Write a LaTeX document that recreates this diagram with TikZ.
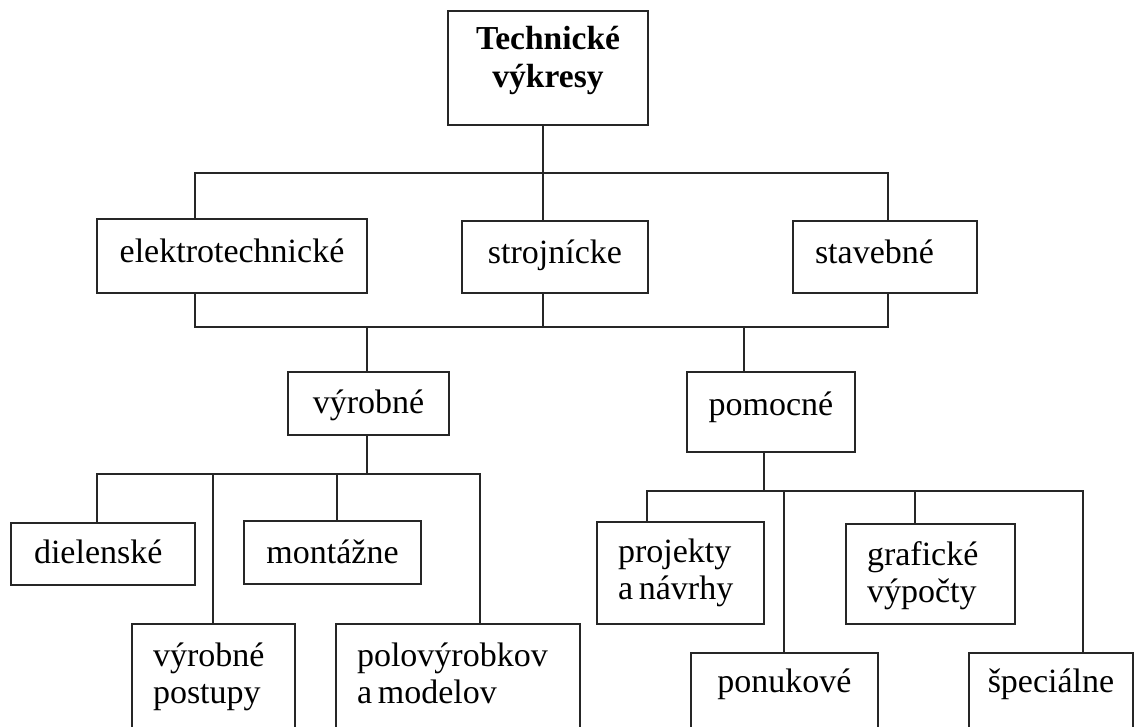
\documentclass[tikz,border=0pt]{standalone}
\usepackage{fontspec}
\setmainfont{Liberation Serif}
\begin{document}
\begin{tikzpicture}[x=1pt,y=-1pt,
  conn/.style={line width=1.8pt,draw=black!85},
  box/.style={draw=black!85,line width=1.8pt,rectangle,inner sep=0pt,
    font=\fontsize{34}{37}\selectfont},
  lbox/.style={box,align=left,execute at begin node={\spaceskip=0.17em\relax}},
  cbox/.style={box,align=center}]
\useasboundingbox (0,0) rectangle (1137,727);
\clip (0,0) rectangle (1137,727);
% boxes
\node[cbox,minimum width=200pt,minimum height=114pt,text width=200pt,text height=30pt,text depth=66pt,font=\fontsize{33.5}{38}\selectfont\bfseries] (top) at (548,68) {Technické\\výkresy};
\node[box,minimum width=270pt,minimum height=74pt,text height=30pt,text depth=18pt] (elektro) at (232,256) {elektrotechnické};
\node[box,minimum width=186pt,minimum height=72pt,text height=30pt,text depth=16pt] (stroj) at (555,257) {strojnícke};
\node[lbox,minimum width=184pt,minimum height=72pt,text width=140pt,text height=30pt,text depth=16pt] (stav) at (885,257) {stavebné};
\node[box,minimum width=161pt,minimum height=63pt,text height=33pt,text depth=13pt] (vyr) at (368.5,403.5) {výrobné};
\node[box,minimum width=168pt,minimum height=80pt,text height=27pt,text depth=21pt] (pom) at (771,412) {pomocné};
\node[lbox,minimum width=184pt,minimum height=62pt,text width=138pt,text height=33pt,text depth=14pt] (diel) at (103,554) {dielenské};
\node[box,minimum width=177pt,minimum height=63pt,text height=34pt,text depth=12pt] (mont) at (332.5,552.5) {montážne};
\node[lbox,minimum width=163pt,minimum height=136pt,text width=121pt,text height=30pt,text depth=82pt] (post) at (213.5,692) {výrobné\\postupy};
\node[lbox,minimum width=244pt,minimum height=136pt,text width=202pt,text height=30pt,text depth=82pt] (polo) at (458,692) {polovýrobkov\\a modelov};
\node[lbox,minimum width=167pt,minimum height=102pt,text width=125pt,text height=30pt,text depth=52pt] (proj) at (680.5,573) {projekty\\a návrhy};
\node[lbox,minimum width=169pt,minimum height=100pt,text width=127pt,text height=30pt,text depth=48pt] (graf) at (930.5,574) {grafické\\výpočty};
\node[box,minimum width=187pt,minimum height=107pt,text height=30pt,text depth=59pt] (ponu) at (784.5,706.5) {ponukové};
\node[box,minimum width=164pt,minimum height=107pt,text height=30pt,text depth=59pt] (spec) at (1051,706.5) {špeciálne};
% junction coordinates
\coordinate (j0) at (543,173);
\coordinate (b1L) at (195,173);
\coordinate (b1R) at (888,173);
\coordinate (j1) at (543,327);
\coordinate (b2L) at (195,327);
\coordinate (b2R) at (888,327);
\coordinate (jv) at (367,327);
\coordinate (jp) at (744,327);
\coordinate (j3) at (367,474);
\coordinate (b3a) at (97,474);
\coordinate (b3b) at (213,474);
\coordinate (b3c) at (337,474);
\coordinate (b3d) at (480,474);
\coordinate (j4) at (764,491);
\coordinate (b4a) at (647,491);
\coordinate (b4b) at (784,491);
\coordinate (b4c) at (915,491);
\coordinate (b4d) at (1083,491);
% connectors
\draw[conn] (top.south -| j0) -- (j0) -- (stroj.north -| j0);
\draw[conn] (elektro.north -| b1L) -- (b1L) -- (b1R) -- (stav.north -| b1R);
\draw[conn] (elektro.south -| b2L) -- (b2L) -- (b2R) -- (stav.south -| b2R);
\draw[conn] (stroj.south -| j1) -- (j1);
\draw[conn] (jv) -- (vyr.north -| jv);
\draw[conn] (jp) -- (pom.north -| jp);
\draw[conn] (vyr.south -| j3) -- (j3);
\draw[conn] (diel.north -| b3a) -- (b3a) -- (b3d) -- (polo.north -| b3d);
\draw[conn] (b3b) -- (post.north -| b3b);
\draw[conn] (b3c) -- (mont.north -| b3c);
\draw[conn] (pom.south -| j4) -- (j4);
\draw[conn] (proj.north -| b4a) -- (b4a) -- (b4d) -- (spec.north -| b4d);
\draw[conn] (b4b) -- (ponu.north -| b4b);
\draw[conn] (b4c) -- (graf.north -| b4c);
\end{tikzpicture}
\end{document}
